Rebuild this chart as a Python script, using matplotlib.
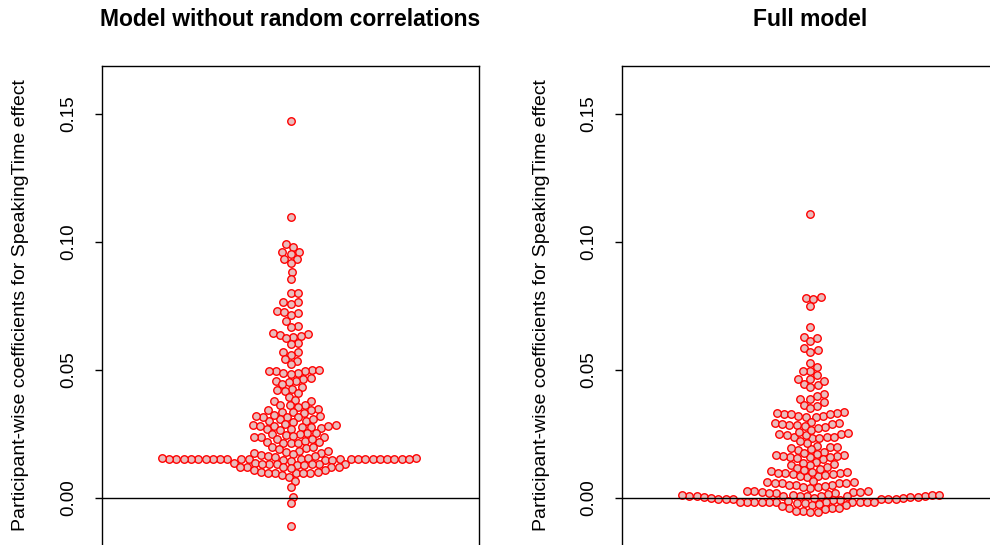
"""
Beeswarm de coeficientes por participante (efecto SpeakingTime) para dos modelos.
"""

import numpy as np
import matplotlib
matplotlib.use("Agg")
import matplotlib.pyplot as plt

plt.rcParams['font.family'] = ['Liberation Sans', 'DejaVu Sans']

titles = ["Model without random correlations", "Full model"]
y_label = "Participant-wise coefficients for SpeakingTime effect"
y_ticks = [0.00, 0.05, 0.10, 0.15]
y_tick_labels = ["0.00", "0.05", "0.10", "0.15"]

# coeficientes estimados a ojo del gráfico original
coef_no_corr = [
    0.1473, 0.1098,
    0.0992, 0.0980, 0.0961, 0.0961, 0.0953, 0.0934, 0.0934, 0.0918, 0.0883, 0.0855,
    0.0801, 0.0801, 0.0766, 0.0766, 0.0758, 0.0730, 0.0727, 0.0723, 0.0715, 0.0691,
    0.0672, 0.0668,
    0.0645, 0.0641, 0.0637, 0.0633, 0.0629, 0.0625, 0.0605, 0.0602,
    0.0570, 0.0570, 0.0559, 0.0543, 0.0535, 0.0523,
    0.0500, 0.0500, 0.0496, 0.0496, 0.0496, 0.0488, 0.0488, 0.0484, 0.0469, 0.0465,
    0.0457, 0.0457, 0.0453, 0.0445, 0.0434, 0.0426, 0.0422, 0.0418, 0.0410, 0.0395,
    0.0383, 0.0379, 0.0379, 0.0363, 0.0363, 0.0363, 0.0355, 0.0348, 0.0344, 0.0344,
    0.0336, 0.0336, 0.0332,
    0.0320, 0.0316, 0.0316, 0.0309, 0.0301, 0.0297, 0.0301, 0.0309, 0.0316, 0.0320, 0.0324,
    0.0285, 0.0281, 0.0277, 0.0273, 0.0270, 0.0266, 0.0270, 0.0277, 0.0281, 0.0281,
    0.0285, 0.0289,
    0.0254, 0.0250, 0.0246, 0.0238, 0.0242, 0.0250, 0.0254,
    0.0238, 0.0238, 0.0230, 0.0219, 0.0215, 0.0215, 0.0199, 0.0215, 0.0219, 0.0223, 0.0230,
    0.0195, 0.0184, 0.0176, 0.0199, 0.0176, 0.0180, 0.0184, 0.0191,
    0.0172, 0.0168, 0.0164, 0.0164, 0.0160, 0.0156, 0.0148, 0.0145,
    0.0152, 0.0152, 0.0152, 0.0152, 0.0152, 0.0152, 0.0152, 0.0152, 0.0152, 0.0152,
    0.0152, 0.0152, 0.0152, 0.0152, 0.0152, 0.0152, 0.0152, 0.0152, 0.0152,
    0.0154, 0.0154, 0.0154, 0.0157, 0.0157, 0.0150, 0.0150,
    0.0138, 0.0136, 0.0133, 0.0133, 0.0133, 0.0133, 0.0129, 0.0132, 0.0132,
    0.0120, 0.0120, 0.0120, 0.0120, 0.0120, 0.0109, 0.0109, 0.0103, 0.0103,
    0.0099, 0.0099, 0.0099, 0.0090, 0.0083, 0.0096, 0.0096, 0.0116, 0.0129,
    0.0066, 0.0044, 0.0005, -0.0021, -0.0108,
]

coef_full = [
    0.1111,
    0.0785, 0.0781, 0.0777, 0.0751,
    0.0667,
    0.0627, 0.0613, 0.0625,
    0.0586, 0.0571, 0.0579,
    0.0527, 0.0511, 0.0495, 0.0497, 0.0479, 0.0464, 0.0463, 0.0445, 0.0434, 0.0441, 0.0457,
    0.0406, 0.0398, 0.0387, 0.0387, 0.0376, 0.0363, 0.0361, 0.0352,
    0.0337, 0.0328, 0.0320, 0.0320, 0.0318, 0.0331, 0.0318, 0.0327, 0.0327, 0.0333,
    0.0297, 0.0293, 0.0289, 0.0285, 0.0285, 0.0293, 0.0289, 0.0281, 0.0277,
    0.0250, 0.0238, 0.0234, 0.0238, 0.0246, 0.0250, 0.0254, 0.0246, 0.0234, 0.0266,
    0.0273, 0.0238, 0.0258,
    0.0203, 0.0188, 0.0199, 0.0191, 0.0180, 0.0195, 0.0199, 0.0215, 0.0223,
    0.0172, 0.0168, 0.0164, 0.0160, 0.0152, 0.0160, 0.0176, 0.0160, 0.0164, 0.0168, 0.0156,
    0.0133, 0.0121, 0.0141, 0.0129, 0.0129, 0.0137, 0.0117,
    0.0105, 0.0098, 0.0094, 0.0086, 0.0082, 0.0098, 0.0102, 0.0098, 0.0113, 0.0086,
    0.0090, 0.0094, 0.0102, 0.0109,
    0.0059, 0.0051, 0.0043, 0.0039, 0.0059, 0.0051, 0.0063, 0.0059, 0.0063, 0.0043,
    0.0051, 0.0059, 0.0066, 0.0047,
    0.0027, 0.0023, 0.0020, 0.0020, 0.0023, 0.0027, 0.0027, 0.0023, 0.0020, 0.0016,
    0.0009, 0.0009, 0.0009, 0.0009, 0.0009, 0.0009, 0.0009, 0.0009,
    0.0010, 0.0010, 0.0010, 0.0010,
    0.0004, 0.0002, 0.0000, 0.0000, -0.0002, -0.0004, -0.0004, -0.0005, -0.0006, -0.0008,
    0.0004, 0.0000, -0.0004, -0.0004,
    -0.0014, -0.0014, -0.0014, -0.0014, -0.0014, -0.0014, -0.0014, -0.0014, -0.0014,
    -0.0014, -0.0018, -0.0021, -0.0016, -0.0012,
    -0.0027, -0.0027, -0.0038, -0.0038, -0.0040, -0.0044, -0.0050, -0.0050, -0.0054,
    -0.0055, -0.0031, -0.0023,
]

W, H = 990, 545
ylim = (-(544 - 498) / 2560, 0.15 + (114 - 66) / 2560)


def swarm_offsets(ax, values, size_px):
    """
    Posiciones horizontales tipo 'swarm' (orden ascendente, como beeswarm de R).
    Devuelve las x en coordenadas de datos, centradas en 1.
    """
    values = np.asarray(values, dtype=float)
    pts = ax.transData.transform(np.column_stack([np.ones(len(values)), values]))
    ypix = pts[:, 1] / size_px
    order = np.argsort(values, kind="stable")
    offs = np.zeros(len(values))
    placed_y, placed_x = [], []
    for idx in order:
        yi = ypix[idx]
        xi = 0.0
        if placed_y:
            py = np.array(placed_y)
            px = np.array(placed_x)
            near = np.abs(yi - py) < 1
            if near.any():
                dy = yi - py[near]
                off = np.sqrt(np.abs(1 - dy ** 2))
                cand = np.concatenate([[0.0], px[near] + off, px[near] - off])
                bad = np.array([np.any(dy ** 2 + (c - px[near]) ** 2 < 0.999) for c in cand])
                cand[bad] = np.inf
                xi = cand[np.argmin(np.abs(cand))]
        offs[idx] = xi
        placed_y.append(yi)
        placed_x.append(xi)
    # pasar de píxeles a datos en x
    x0 = ax.transData.transform((1, 0))[0]
    xs = ax.transData.inverted().transform(
        np.column_stack([x0 + offs * size_px, pts[:, 1]]))[:, 0]
    return xs


fig = plt.figure(figsize=(W / 100, H / 100), dpi=100)

lefts = [102, 622]
for left, title, values in zip(lefts, titles, [coef_no_corr, coef_full]):
    ax = fig.add_axes([left / W, 1 - 544 / H, 377 / W, (544 - 66) / H])
    ax.set_xlim(0.5, 1.5)
    ax.set_ylim(*ylim)
    xs = swarm_offsets(ax, values, 7.3)
    ax.plot(xs, values, 'o', ms=5.4, mfc='#e9bcbc', mec='red', mew=1.0, ls='none')
    ax.axhline(0, color='black', lw=1)

    ax.spines['bottom'].set_visible(False)
    for s in ['top', 'left', 'right']:
        ax.spines[s].set_linewidth(1)
    ax.set_xticks([])
    ax.set_yticks(y_ticks)
    ax.set_yticklabels(y_tick_labels, rotation=90, va='center', fontsize=13.5)
    ax.tick_params(axis='y', length=5, width=1, pad=13)

    cx = (left + 377 / 2) / W
    fig.text(cx, 1 - 20 / H, title, ha='center', va='center',
             fontsize=16.5, fontweight='bold')
    fig.text((left - 81) / W, 1 - 305 / H, y_label, rotation=90,
             ha='center', va='center', fontsize=14)

fig.savefig("out.png", dpi=100)
